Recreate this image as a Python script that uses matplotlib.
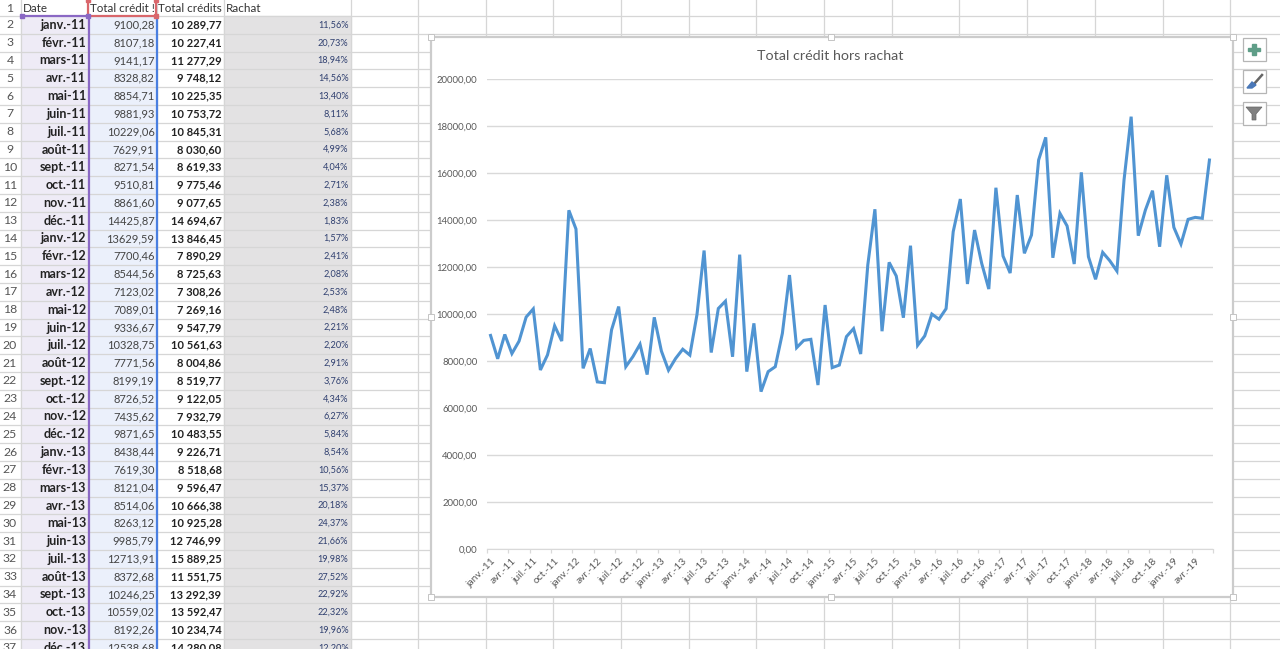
import matplotlib
matplotlib.use("Agg")
import matplotlib.pyplot as plt
from matplotlib.patches import Rectangle, Polygon

plt.rcParams['font.family'] = ['Lato', 'DejaVu Sans']

# spreadsheet columns
dates = ['janv.-11', 'févr.-11', 'mars-11', 'avr.-11', 'mai-11', 'juin-11', 'juil.-11', 'août-11', 'sept.-11',
         'oct.-11', 'nov.-11', 'déc.-11', 'janv.-12', 'févr.-12', 'mars-12', 'avr.-12', 'mai-12', 'juin-12',
         'juil.-12', 'août-12', 'sept.-12', 'oct.-12', 'nov.-12', 'déc.-12', 'janv.-13', 'févr.-13', 'mars-13',
         'avr.-13', 'mai-13', 'juin-13', 'juil.-13', 'août-13', 'sept.-13', 'oct.-13', 'nov.-13', 'déc.-13']
total_credits = ['10 289,77', '10 227,41', '11 277,29', '9 748,12', '10 225,35', '10 753,72', '10 845,31', '8 030,60',
                 '8 619,33', '9 775,46', '9 077,65', '14 694,67', '13 846,45', '7 890,29', '8 725,63', '7 308,26',
                 '7 269,16', '9 547,79', '10 561,63', '8 004,86', '8 519,77', '9 122,05', '7 932,79', '10 483,55',
                 '9 226,71', '8 518,68', '9 596,47', '10 666,38', '10 925,28', '12 746,99', '15 889,25', '11 551,75',
                 '13 292,39', '13 592,47', '10 234,74', '14 280,08']
rachat = ['11,56%', '20,73%', '18,94%', '14,56%', '13,40%', '8,11%', '5,68%', '4,99%', '4,04%', '2,71%', '2,38%',
          '1,83%', '1,57%', '2,41%', '2,08%', '2,53%', '2,48%', '2,21%', '2,20%', '2,91%', '3,76%', '4,34%', '6,27%',
          '5,84%', '8,54%', '10,56%', '15,37%', '20,18%', '24,37%', '21,66%', '19,98%', '27,52%', '22,92%', '22,32%',
          '19,96%', '12,20%']
headers = ['Date', 'Total crédit !', 'Total crédits', 'Rachat']

# chart series, janv.-11 to juin-19
hors_rachat = [9100.28, 8107.18, 9141.17, 8328.82, 8854.71, 9881.93, 10229.06, 7629.91, 8271.54, 9510.81, 8861.60,
               14425.87, 13629.59, 7700.46, 8544.56, 7123.02, 7089.01, 9336.67, 10328.75, 7771.56, 8199.19, 8726.52,
               7435.62, 9871.65, 8438.44, 7619.30, 8121.04, 8514.06, 8263.12, 9985.79, 12713.91, 8372.68, 10246.25,
               10559.02, 8192.26, 12538.68,
               7560, 9615, 6710, 7560, 7770, 9190, 11670, 8580, 8890, 8935, 6990, 10395,
               7730, 7840, 9050, 9390, 8310, 12100, 14470, 9280, 12210, 11630, 9855, 12920,
               8680, 9080, 10010, 9790, 10240, 13515, 14905, 11290, 13585, 12170, 11075, 15385,
               12480, 11755, 15075, 12595, 13375, 16565, 17530, 12405, 14295, 13760, 12140, 16040,
               12450, 11490, 12635, 12280, 11840, 15715, 18410, 13345, 14435, 15260, 12875, 15915,
               13700, 12990, 14040, 14125, 14085, 16565]
tick_labels = ['janv.-11', 'avr.-11', 'juil.-11', 'oct.-11', 'janv.-12', 'avr.-12', 'juil.-12', 'oct.-12',
               'janv.-13', 'avr.-13', 'juil.-13', 'oct.-13', 'janv.-14', 'avr.-14', 'juil.-14', 'oct.-14',
               'janv.-15', 'avr.-15', 'juil.-15', 'oct.-15', 'janv.-16', 'avr.-16', 'juil.-16', 'oct.-16',
               'janv.-17', 'avr.-17', 'juil.-17', 'oct.-17', 'janv.-18', 'avr.-18', 'juil.-18', 'oct.-18',
               'janv.-19', 'avr.-19']
y_ticks = [0, 2000, 4000, 6000, 8000, 10000, 12000, 14000, 16000, 18000, 20000]


def fr(v):
    return ('%.2f' % v).replace('.', ',')


W, H = 1280, 649
fig = plt.figure(figsize=(W / 100, H / 100), dpi=100, facecolor='white')

# sheet drawn in pixel coordinates
sheet = fig.add_axes([0, 0, 1, 1])
sheet.set_xlim(0, W)
sheet.set_ylim(H, 0)
sheet.axis('off')

col_x = [21, 88, 157, 224, 351, 418, 486, 553, 621, 689, 756, 824, 892, 959, 1027, 1095, 1163, 1230]
row_h = 17.8
top = 16

sheet.add_patch(Rectangle((21, top), 67, H, color='#eeebf6', zorder=0))
sheet.add_patch(Rectangle((88, top), 69, H, color='#ebf0fb', zorder=0))
sheet.add_patch(Rectangle((224, top), 127, H, color='#e3e2e3', zorder=0))

for x in col_x:
    sheet.plot([x, x], [0, H], color='#d6d6d6', lw=0.9, zorder=1)
for k in range(37):
    y = top + k * row_h
    sheet.plot([0, W], [y, y], color='#d6d6d6', lw=0.9, zorder=1)

# row numbers and cells
sheet.text(10, 9, '1', ha='center', va='center', fontsize=8.8, color='#555555')
for k in range(36):
    y = top + (k + 0.5) * row_h
    sheet.text(10, y, str(k + 2), ha='center', va='center', fontsize=8.8, color='#555555', zorder=3)
    sheet.text(86, y, dates[k], ha='right', va='center', fontsize=9, fontweight='bold', color='#222222', zorder=3)
    sheet.text(154.5, y, fr(hors_rachat[k]), ha='right', va='center', fontsize=8, color='#444444', zorder=3)
    sheet.text(221.5, y, total_credits[k], ha='right', va='center', fontsize=8, fontweight='bold',
               color='#222222', zorder=3)
    sheet.text(348.5, y, rachat[k], ha='right', va='center', fontsize=6.6, color='#2f3f6f', zorder=3)

# header row
for x, txt in zip([23, 90, 158, 226], headers):
    sheet.text(x, 8.5, txt, ha='left', va='center', fontsize=8.4, color='#333333', zorder=3)

# excel range selection marks
sheet.plot([22, 88], [16, 16], color='#8a68c4', lw=1.6, zorder=4)
sheet.plot([88.5, 88.5], [16, H], color='#8a68c4', lw=1.6, zorder=4)
sheet.plot([156.5, 156.5], [16, H], color='#4a7fe0', lw=1.6, zorder=4)
sheet.plot([88, 156], [16, 16], color='#d9666b', lw=1.6, zorder=4)
sheet.plot([88, 88], [0, 16], color='#d9666b', lw=1.6, zorder=4)
sheet.plot([156, 156], [0, 16], color='#d9666b', lw=1.6, zorder=4)
for hx, hy, c in [(22, 16, '#8a68c4'), (88, 16, '#8a68c4'), (88, 0, '#d9666b'),
                  (156, 0, '#d9666b'), (156, 16, '#d9666b')]:
    sheet.add_patch(Rectangle((hx - 2, hy - 2), 4, 4, color=c, zorder=5))

# chart frame
sheet.add_patch(Rectangle((431, 37), 802, 560, facecolor='white', edgecolor='#cccccc', lw=1.6, zorder=6))
for hx in [431, 831, 1233]:
    for hy in [37, 317, 597]:
        if hx == 831 and hy == 317:
            continue
        sheet.add_patch(Rectangle((hx - 3, hy - 3), 6, 6, facecolor='white', edgecolor='#c4c4c4', lw=0.7, zorder=7))

# buttons next to the chart
for by in [38, 70, 102]:
    sheet.add_patch(Rectangle((1242.5, by - 0.5), 23, 23, facecolor='white', edgecolor='#b5b5b5', lw=0.9, zorder=6))
sheet.add_patch(Rectangle((1248, 47.5), 12, 3.2, color='#5f9e88', zorder=7))
sheet.add_patch(Rectangle((1252.4, 43.5), 3.2, 11.5, color='#5f9e88', zorder=7))
sheet.plot([1254, 1262], [84, 75], color='#666666', lw=1.8, zorder=7)
sheet.add_patch(Polygon([[1247, 88], [1252, 82], [1256, 85], [1252, 88]], color='#4a78b8', zorder=7))
sheet.add_patch(Polygon([[1246, 107], [1262, 107], [1256, 114], [1256, 120], [1252, 120], [1252, 114]],
                        facecolor='#808080', edgecolor='#666666', lw=0.5, zorder=7))

# chart itself
ax = fig.add_axes([487 / W, 1 - 549.3 / H, 726 / W, 470 / H], zorder=8)
ax.patch.set_alpha(0)
x_pos = [i + 0.5 for i in range(len(hors_rachat))]
ax.plot(x_pos, hors_rachat, color='#5094d2', lw=2.2, solid_joinstyle='miter', zorder=3)

ax.set_xlim(0, 102)
ax.set_ylim(0, 20000)
ax.set_yticks(y_ticks)
ax.set_yticklabels([fr(v) for v in y_ticks])
ax.tick_params(axis='y', length=0, labelsize=6.9, labelcolor='#595959', pad=7)
ax.grid(axis='y', color='#d9d9d9', lw=1)
ax.set_axisbelow(True)

ax.set_xticks(range(0, 103, 3))
ax.set_xticklabels([])
ax.tick_params(axis='x', which='major', length=3, color='#d9d9d9', width=0.9)
ax.set_xticks([i + 0.5 for i in range(0, 102, 3)], minor=True)
ax.set_xticklabels(tick_labels, minor=True, rotation=45, ha='right', va='top', rotation_mode='anchor')
ax.tick_params(axis='x', which='minor', length=0, labelsize=7.4, labelcolor='#595959', pad=5)

for s in ['top', 'right', 'left']:
    ax.spines[s].set_visible(False)
ax.spines['bottom'].set_color('#d9d9d9')

sheet.text(830.5, 56, 'Total crédit hors rachat', ha='center', va='center', fontsize=10.3, color='#595959', zorder=9)

fig.savefig('out.png', dpi=100)
